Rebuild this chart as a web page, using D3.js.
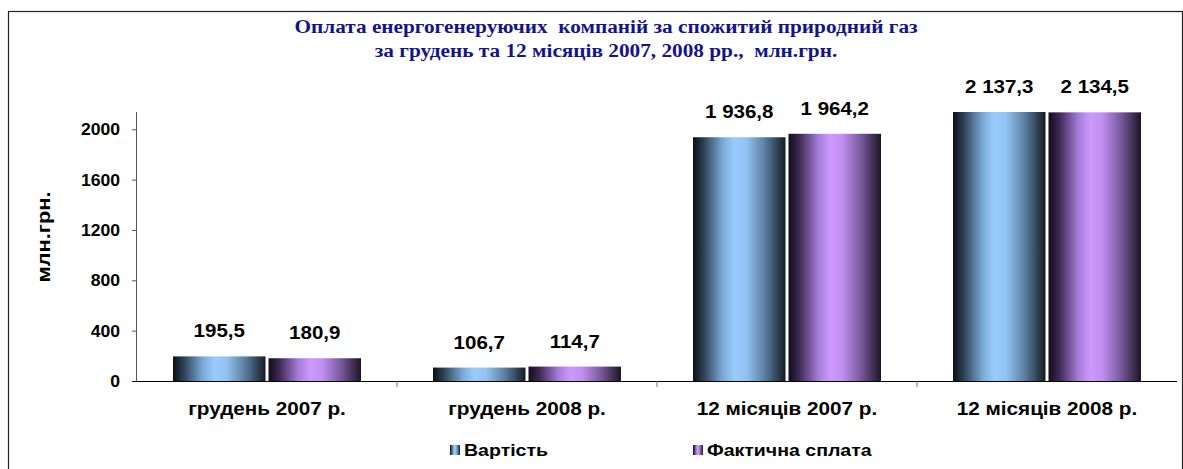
<!DOCTYPE html>
<html><head><meta charset="utf-8">
<script src="https://cdn.jsdelivr.net/npm/d3@7"></script>
<style>body{margin:0;background:#fff;} svg{display:block;} text{white-space:pre;}</style>
</head><body>
<svg id="chart" width="1183" height="469"></svg>
<script>
const categories = ["грудень 2007 р.", "грудень 2008 р.", "12 місяців 2007 р.", "12 місяців 2008 р."];
const seriesNames = ["Вартість", "Фактична сплата"];
const vartist = [195.5, 106.7, 1936.8, 2137.3];
const faktychna = [180.9, 114.7, 1964.2, 2134.5];
const yTicks = [0, 400, 800, 1200, 1600, 2000];
const titleLines = ["Оплата енергогенеруючих  компаній за спожитий природний газ", "за грудень та 12 місяців 2007, 2008 рр.,  млн.грн."];
const yTitle = "млн.грн.";

const svg = d3.select("#chart");
const defs = svg.append("defs");
function grad(id, stops) {
  const g = defs.append("linearGradient").attr("id", id).attr("x1", "0").attr("x2", "1").attr("y1", "0").attr("y2", "0");
  stops.forEach(s => g.append("stop").attr("offset", s[0]).attr("stop-color", s[1]));
}
grad("gBlue", [[0, "#0a0f14"], [0.12, "#2e4358"], [0.32, "#7aa9d6"], [0.45, "#99ccff"], [0.58, "#92c2f2"], [0.78, "#5a7d9e"], [1, "#141c24"]]);
grad("gPurple", [[0, "#140c1c"], [0.12, "#3f2a55"], [0.32, "#a47bd6"], [0.45, "#cc99ff"], [0.58, "#c190f2"], [0.78, "#7a5a9e"], [1, "#1c1424"]]);
const fills = ["url(#gBlue)", "url(#gPurple)"];

const SANS = "Liberation Sans, Arial, sans-serif";
const SX = 1.14;
function label(parent, x, y, txt, size, anchor, opts = {}) {
  const g = parent.append("g").attr("transform", `translate(${x},${y})${opts.rotate ? " rotate(" + opts.rotate + ")" : ""} scale(${opts.sx || SX},1)`);
  g.append("text").attr("x", 0).attr("y", 0).attr("text-anchor", anchor)
    .attr("font-family", opts.family || SANS).attr("font-weight", "bold").attr("font-size", size)
    .attr("fill", opts.fill || "#000").text(txt);
  return g;
}

// frame
svg.append("rect").attr("x", 8.5).attr("y", 11.5).attr("width", 1174).attr("height", 470)
  .attr("fill", "none").attr("stroke", "#222").attr("stroke-width", 1.2);

// title
titleLines.forEach((t, i) => label(svg, 606, 33 + i * 24, t, 19, "middle",
  { family: "Liberation Serif, Times New Roman, serif", fill: "#14148a", sx: 1.12 }));

const left = 137, right = 1177, bottom = 381;
const y = d3.scaleLinear().domain([0, 2137.3]).range([bottom, 112]);
const x0 = d3.scaleBand().domain(categories).range([left, right]);
const bw = 92.5, gap = 3;

const data = categories.map((c, i) => ({ c, vals: [vartist[i], faktychna[i]] }));
const loc = d3.formatLocale({ decimal: ",", thousands: " ", grouping: [3], currency: ["", ""] });
const fmt = loc.format(",.1f");

const g = svg.append("g");
data.forEach(d => {
  const cx = x0(d.c) + x0.bandwidth() / 2;
  d.vals.forEach((v, j) => {
    const bx = j === 0 ? cx - gap / 2 - bw : cx + gap / 2;
    g.append("rect").attr("x", bx).attr("y", y(v)).attr("width", bw).attr("height", bottom - y(v)).attr("fill", fills[j]);
    label(g, bx + bw / 2, y(v) - 19, fmt(v), 18, "middle");
  });
});

// y axis
const yAxis = svg.append("g").attr("transform", `translate(${left},0)`)
  .call(d3.axisLeft(y).tickValues(yTicks).tickSize(5).tickFormat(""));
yAxis.select(".domain").attr("stroke", "#555").attr("d", `M-0.5,${bottom}V112`);
yAxis.selectAll(".tick line").attr("stroke", "#555");
yTicks.forEach(t => label(svg, 120, y(t) + 6, d3.format("d")(t), 16, "end", { sx: 1.1 }));

// x axis
const xAxis = svg.append("g").attr("transform", `translate(0,${bottom})`)
  .call(d3.axisBottom(x0).tickSize(0).tickFormat(""));
xAxis.select(".domain").attr("stroke", "#000").attr("d", `M${left - 5},0.5H${right}`);
categories.forEach(c => label(svg, x0(c) + x0.bandwidth() / 2, 415, c, 18, "middle", { sx: 1.15 }));
categories.slice(1).forEach(c => {
  svg.append("line").attr("x1", x0(c)).attr("x2", x0(c)).attr("y1", bottom).attr("y2", bottom + 6).attr("stroke", "#777");
});

// y title
label(svg, 50, 237, yTitle, 19, "middle", { rotate: -90, sx: 1.15 });

// legend
const legX = [450, 693];
seriesNames.forEach((n, i) => {
  svg.append("rect").attr("x", legX[i]).attr("y", 445).attr("width", 10).attr("height", 10).attr("fill", fills[i]);
  label(svg, legX[i] + 14, 456, n, 17, "start", { sx: 1.15 });
});
</script>
</body></html>
